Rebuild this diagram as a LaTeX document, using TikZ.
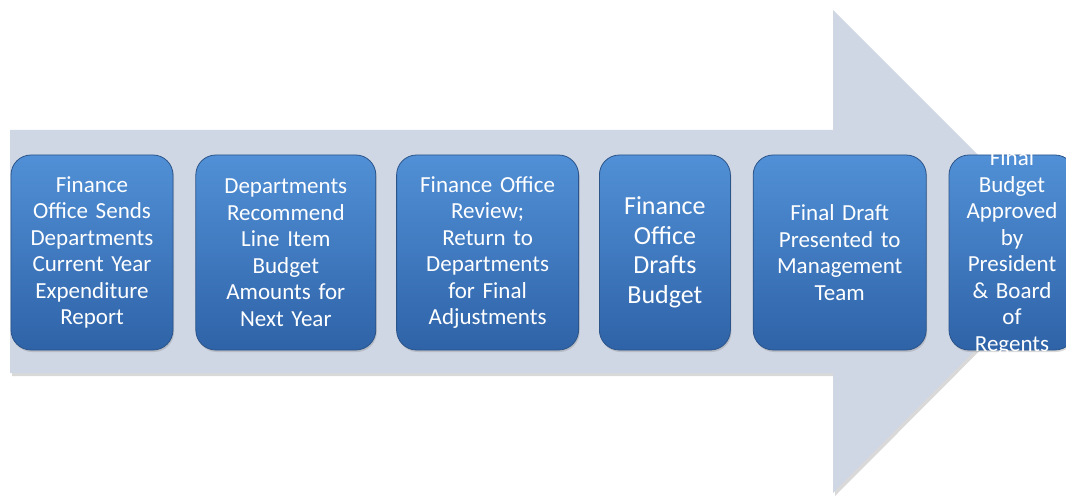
\documentclass[tikz,border=0pt]{standalone}
\usepackage{fontspec}
\setmainfont{Carlito}
\usetikzlibrary{positioning,shadows}
\definecolor{ArrowGray}{HTML}{CFD6E4}
\definecolor{StepTop}{HTML}{5190D6}
\definecolor{StepMid}{HTML}{3C78C3}
\definecolor{StepBot}{HTML}{2F63A8}
\definecolor{StepEdge}{HTML}{2A548A}

\begin{document}
\begin{tikzpicture}[
  x=1pt,y=1pt,
  node distance=21pt,
  box/.style={draw=StepEdge,line width=.8pt,top color=StepTop,middle color=StepMid,bottom color=StepBot,rounded corners=20pt,minimum height=195pt,inner sep=0pt,align=center,text=white,font=\fontsize{23}{26.5}\selectfont,drop shadow={opacity=.3,shadow xshift=1pt,shadow yshift=-2pt}},
  bigtext/.style={font=\fontsize{26}{29.5}\selectfont}
]
\useasboundingbox (0,0) rectangle (1066,496);
% process arrow behind the steps
\path[fill=ArrowGray,drop shadow={opacity=.3,shadow xshift=2pt,shadow yshift=-3pt}]
  (10,366) -- (833,366) -- (833,486) -- (1074,245) -- (833,3) -- (833,123) -- (10,123) -- cycle;
% budget steps
\node[box,text width=162pt] (send) at (92,243.5) {Finance\\Office Sends\\Departments\\Current Year\\Expenditure\\Report};
\node[box,text width=180pt,right=22pt of send] (recommend) {Departments\\Recommend\\Line Item\\Budget\\Amounts for\\Next Year};
\node[box,text width=182pt,right=20pt of recommend] (review) {Finance Office\\Review;\\Return to\\Departments\\for Final\\Adjustments};
\node[box,bigtext,text width=131pt,right=20pt of review] (drafts) {Finance\\Office\\Drafts\\Budget};
\node[box,text width=173pt,right=22pt of drafts] (present) {Final Draft\\Presented to\\Management\\Team};
\node[box,text width=126pt,inner ysep=-8pt,right=22pt of present] (approve) {Final\\Budget\\Approved\\by\\President\\\& Board\\of\\Regents};
\end{tikzpicture}
\end{document}
